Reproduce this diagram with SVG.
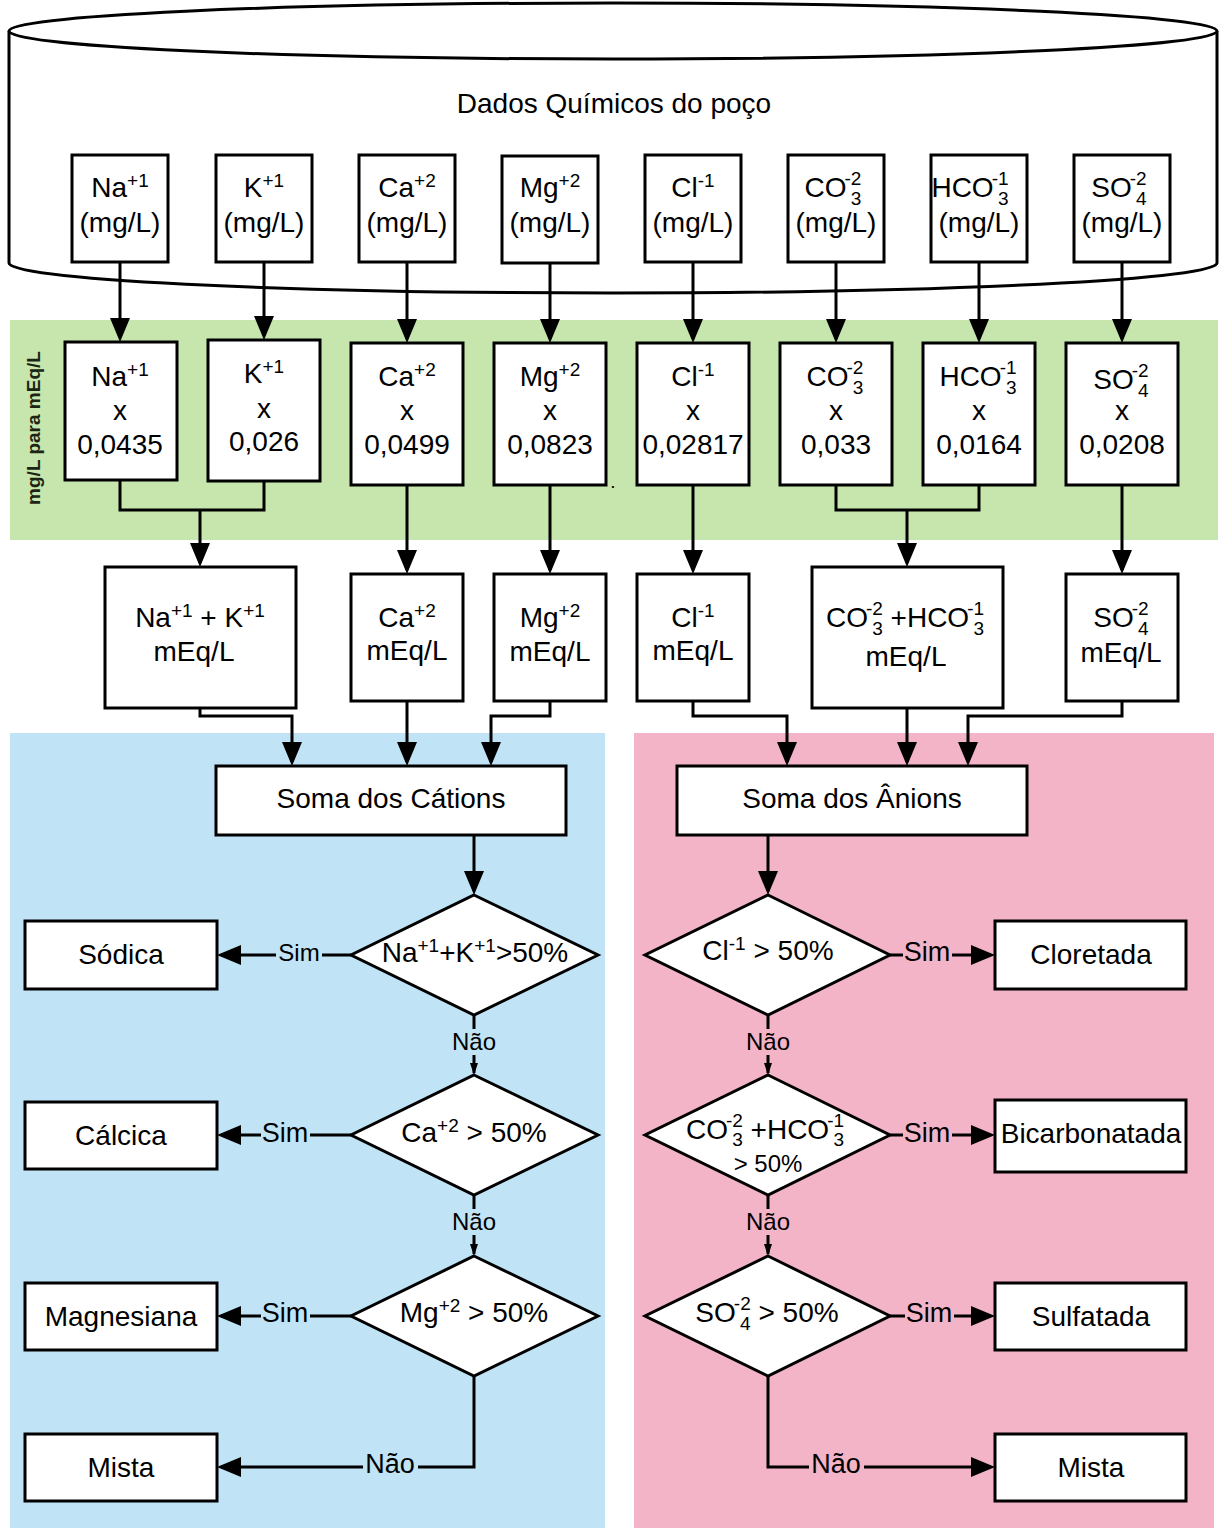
<svg xmlns="http://www.w3.org/2000/svg" width="1220" height="1528" viewBox="0 0 1220 1528">
  <style>
    text { font-family: "Liberation Sans", Arial, sans-serif; font-size: 28px; fill: #000; text-anchor: middle; }
    .s { font-size: 19px; }
    .lbl { font-size: 27px; }
    .lbls { font-size: 24px; }
    .box { fill: #fff; stroke: #000; stroke-width: 3; }
    .wire { fill: none; stroke: #000; stroke-width: 3; }
    .big { marker-end: url(#arr); }
    .small { marker-end: url(#arrs); }
    .side { font-size: 19px; font-weight: bold; fill: #1c2414; }
  </style>
  <defs>
    <marker id="arr" viewBox="0 0 24 20" refX="20" refY="10" markerWidth="24" markerHeight="20" markerUnits="userSpaceOnUse" orient="auto">
      <path d="M0,0 L24,10 L0,20 z" fill="#000"/>
    </marker>
    <marker id="arrs" viewBox="0 0 12 8" refX="10" refY="4" markerWidth="12" markerHeight="8" markerUnits="userSpaceOnUse" orient="auto">
      <path d="M0,0 L12,4 L0,8 z" fill="#000"/>
    </marker>
  </defs>

  <!-- background bands -->
  <rect x="10" y="320" width="1208" height="220" fill="#c6e6ad"/>
  <rect x="10" y="733" width="595" height="795" fill="#c1e3f6"/>
  <rect x="634" y="733" width="580" height="795" fill="#f3b4c8"/>
  <text class="side" transform="translate(40,428) rotate(-90)">mg/L para mEq/L</text>

  <!-- well database cylinder -->
  <g id="well">
    <path class="box" d="M9,31 L9,263 A604,30 0 0 0 1217,263 L1217,31"/>
    <ellipse class="box" cx="613" cy="31" rx="604" ry="28"/>
    <text x="614" y="113">Dados Químicos do poço</text>
  </g>

  <!-- raw concentrations -->
  <g id="in-na"><rect class="box" x="72" y="155" width="96" height="107"/>
    <text x="120" y="197"><tspan>Na</tspan><tspan class="s" dy="-10">+1</tspan></text>
    <text x="120" y="232">(mg/L)</text></g>
  <g id="in-k"><rect class="box" x="216" y="155" width="96" height="107"/>
    <text x="264" y="197"><tspan>K</tspan><tspan class="s" dy="-10">+1</tspan></text>
    <text x="264" y="232">(mg/L)</text></g>
  <g id="in-ca"><rect class="box" x="359" y="155" width="96" height="107"/>
    <text x="407" y="197"><tspan>Ca</tspan><tspan class="s" dy="-10">+2</tspan></text>
    <text x="407" y="232">(mg/L)</text></g>
  <g id="in-mg"><rect class="box" x="502" y="156" width="96" height="107"/>
    <text x="550" y="197"><tspan>Mg</tspan><tspan class="s" dy="-10">+2</tspan></text>
    <text x="550" y="232">(mg/L)</text></g>
  <g id="in-cl"><rect class="box" x="645" y="155" width="96" height="107"/>
    <text x="693" y="197"><tspan>Cl</tspan><tspan class="s" dy="-10">-1</tspan></text>
    <text x="693" y="232">(mg/L)</text></g>
  <g id="in-co3"><rect class="box" x="788" y="155" width="96" height="107"/>
    <text x="833" y="197"><tspan>CO</tspan><tspan class="s" dx="-2" dy="-12">-2</tspan><tspan class="s" dx="-10.6" dy="20">3</tspan></text>
    <text x="836" y="232">(mg/L)</text></g>
  <g id="in-hco3"><rect class="box" x="931" y="155" width="96" height="107"/>
    <text x="970" y="197"><tspan>HCO</tspan><tspan class="s" dx="-2" dy="-12">-1</tspan><tspan class="s" dx="-10.6" dy="20">3</tspan></text>
    <text x="979" y="232">(mg/L)</text></g>
  <g id="in-so4"><rect class="box" x="1074" y="155" width="96" height="107"/>
    <text x="1119" y="197"><tspan>SO</tspan><tspan class="s" dx="-2" dy="-12">-2</tspan><tspan class="s" dx="-10.6" dy="20">4</tspan></text>
    <text x="1122" y="232">(mg/L)</text></g>

  <!-- conversion factors mg/L to mEq/L -->
  <g id="f-na"><rect class="box" x="65" y="342" width="112" height="138"/>
    <text x="120" y="386"><tspan>Na</tspan><tspan class="s" dy="-10">+1</tspan></text>
    <text x="120" y="420">x</text><text x="120" y="454">0,0435</text></g>
  <g id="f-k"><rect class="box" x="208" y="340" width="112" height="141"/>
    <text x="264" y="383"><tspan>K</tspan><tspan class="s" dy="-10">+1</tspan></text>
    <text x="264" y="418">x</text><text x="264" y="451">0,026</text></g>
  <g id="f-ca"><rect class="box" x="351" y="343" width="112" height="142"/>
    <text x="407" y="386"><tspan>Ca</tspan><tspan class="s" dy="-10">+2</tspan></text>
    <text x="407" y="420">x</text><text x="407" y="454">0,0499</text></g>
  <g id="f-mg"><rect class="box" x="494" y="343" width="112" height="142"/>
    <text x="550" y="386"><tspan>Mg</tspan><tspan class="s" dy="-10">+2</tspan></text>
    <text x="550" y="420">x</text><text x="550" y="454">0,0823</text></g>
  <text x="613" y="488" class="s">.</text>
  <g id="f-cl"><rect class="box" x="637" y="343" width="112" height="142"/>
    <text x="693" y="386"><tspan>Cl</tspan><tspan class="s" dy="-10">-1</tspan></text>
    <text x="693" y="420">x</text><text x="693" y="454">0,02817</text></g>
  <g id="f-co3"><rect class="box" x="780" y="343" width="112" height="142"/>
    <text x="835" y="386"><tspan>CO</tspan><tspan class="s" dx="-2" dy="-12">-2</tspan><tspan class="s" dx="-10.6" dy="20">3</tspan></text>
    <text x="836" y="420">x</text><text x="836" y="454">0,033</text></g>
  <g id="f-hco3"><rect class="box" x="923" y="343" width="112" height="142"/>
    <text x="978" y="386"><tspan>HCO</tspan><tspan class="s" dx="-2" dy="-12">-1</tspan><tspan class="s" dx="-10.6" dy="20">3</tspan></text>
    <text x="979" y="420">x</text><text x="979" y="454">0,0164</text></g>
  <g id="f-so4"><rect class="box" x="1066" y="343" width="112" height="142"/>
    <text x="1121" y="389"><tspan>SO</tspan><tspan class="s" dx="-2" dy="-12">-2</tspan><tspan class="s" dx="-10.6" dy="20">4</tspan></text>
    <text x="1122" y="420">x</text><text x="1122" y="454">0,0208</text></g>

  <!-- values in mEq/L -->
  <g id="m-nak"><rect class="box" x="105" y="567" width="191" height="141"/>
    <text x="200" y="627"><tspan>Na</tspan><tspan class="s" dy="-10">+1</tspan><tspan dy="10"> + K</tspan><tspan class="s" dy="-10">+1</tspan></text>
    <text x="194" y="661">mEq/L</text></g>
  <g id="m-ca"><rect class="box" x="351" y="574" width="112" height="127"/>
    <text x="407" y="627"><tspan>Ca</tspan><tspan class="s" dy="-10">+2</tspan></text>
    <text x="407" y="660">mEq/L</text></g>
  <g id="m-mg"><rect class="box" x="494" y="574" width="112" height="127"/>
    <text x="550" y="627"><tspan>Mg</tspan><tspan class="s" dy="-10">+2</tspan></text>
    <text x="550" y="661">mEq/L</text></g>
  <g id="m-cl"><rect class="box" x="637" y="574" width="112" height="127"/>
    <text x="693" y="627"><tspan>Cl</tspan><tspan class="s" dy="-10">-1</tspan></text>
    <text x="693" y="660">mEq/L</text></g>
  <g id="m-carb"><rect class="box" x="812" y="567" width="191" height="141"/>
    <text x="905" y="627"><tspan>CO</tspan><tspan class="s" dx="-2" dy="-12">-2</tspan><tspan class="s" dx="-10.6" dy="20">3</tspan><tspan dy="-8"> +HCO</tspan><tspan class="s" dx="-2" dy="-12">-1</tspan><tspan class="s" dx="-10.6" dy="20">3</tspan></text>
    <text x="906" y="666">mEq/L</text></g>
  <g id="m-so4"><rect class="box" x="1066" y="574" width="112" height="127"/>
    <text x="1121" y="627"><tspan>SO</tspan><tspan class="s" dx="-2" dy="-12">-2</tspan><tspan class="s" dx="-10.6" dy="20">4</tspan></text>
    <text x="1121" y="662">mEq/L</text></g>

  <!-- sums -->
  <g id="sum-cat"><rect class="box" x="216" y="766" width="350" height="69"/>
    <text x="391" y="808">Soma dos Cátions</text></g>
  <g id="sum-an"><rect class="box" x="677" y="766" width="350" height="69"/>
    <text x="852" y="808">Soma dos Ânions</text></g>

  <!-- cation decisions -->
  <g id="d-nak"><polygon class="box" points="474,895 598,955 474,1015 351,955"/>
    <text x="475" y="962"><tspan>Na</tspan><tspan class="s" dy="-10">+1</tspan><tspan dy="10">+K</tspan><tspan class="s" dy="-10">+1</tspan><tspan dy="10">&gt;50%</tspan></text></g>
  <g id="d-ca"><polygon class="box" points="474,1075 598,1135 474,1195 351,1135"/>
    <text x="474" y="1142"><tspan>Ca</tspan><tspan class="s" dy="-10">+2</tspan><tspan dy="10"> &gt; 50%</tspan></text></g>
  <g id="d-mg"><polygon class="box" points="474,1256 598,1316 474,1376 351,1316"/>
    <text x="474" y="1322"><tspan>Mg</tspan><tspan class="s" dy="-10">+2</tspan><tspan dy="10"> &gt; 50%</tspan></text></g>

  <g id="r-sodica"><rect class="box" x="25" y="921" width="192" height="68"/><text x="121" y="964">Sódica</text></g>
  <g id="r-calcica"><rect class="box" x="25" y="1102" width="192" height="67"/><text x="121" y="1145">Cálcica</text></g>
  <g id="r-magnesiana"><rect class="box" x="25" y="1283" width="192" height="67"/><text x="121" y="1326">Magnesiana</text></g>
  <g id="r-mista-cat"><rect class="box" x="25" y="1434" width="192" height="67"/><text x="121" y="1477">Mista</text></g>

  <!-- anion decisions -->
  <g id="d-cl"><polygon class="box" points="768,895 890,955 768,1015 645,955"/>
    <text x="768" y="960"><tspan>Cl</tspan><tspan class="s" dy="-10">-1</tspan><tspan dy="10"> &gt; 50%</tspan></text></g>
  <g id="d-carb"><polygon class="box" points="768,1075 890,1135 768,1195 645,1135"/>
    <text x="765" y="1139"><tspan>CO</tspan><tspan class="s" dx="-2" dy="-12">-2</tspan><tspan class="s" dx="-10.6" dy="19">3</tspan><tspan dy="-7"> +HCO</tspan><tspan class="s" dx="-2" dy="-12">-1</tspan><tspan class="s" dx="-10.6" dy="19">3</tspan></text>
    <text x="768" y="1172" class="lbls">&gt; 50%</text></g>
  <g id="d-so4"><polygon class="box" points="768,1256 890,1316 768,1376 645,1316"/>
    <text x="767" y="1322"><tspan>SO</tspan><tspan class="s" dx="-2" dy="-12">-2</tspan><tspan class="s" dx="-10.6" dy="20">4</tspan><tspan dy="-8"> &gt; 50%</tspan></text></g>

  <g id="r-cloretada"><rect class="box" x="995" y="921" width="191" height="68"/><text x="1091" y="964">Cloretada</text></g>
  <g id="r-bicarbonatada"><rect class="box" x="995" y="1100" width="191" height="72"/><text x="1091" y="1143">Bicarbonatada</text></g>
  <g id="r-sulfatada"><rect class="box" x="995" y="1283" width="191" height="67"/><text x="1091" y="1326">Sulfatada</text></g>
  <g id="r-mista-an"><rect class="box" x="995" y="1434" width="191" height="67"/><text x="1091" y="1477">Mista</text></g>

  <!-- connectors -->
  <g id="connectors">
    <path class="wire big" d="M120,262 V338"/>
    <path class="wire big" d="M264,262 V336"/>
    <path class="wire big" d="M407,262 V339"/>
    <path class="wire big" d="M550,263 V339"/>
    <path class="wire big" d="M693,262 V339"/>
    <path class="wire big" d="M836,262 V339"/>
    <path class="wire big" d="M979,262 V339"/>
    <path class="wire big" d="M1122,262 V339"/>

    <path class="wire" d="M120,480 V510 H264 V481"/>
    <path class="wire big" d="M200,510 V563"/>
    <path class="wire big" d="M407,485 V570"/>
    <path class="wire big" d="M550,485 V570"/>
    <path class="wire big" d="M693,485 V570"/>
    <path class="wire" d="M836,485 V510 H979 V485"/>
    <path class="wire big" d="M907,510 V563"/>
    <path class="wire big" d="M1122,485 V570"/>

    <path class="wire big" d="M200,708 V716 H292 V762"/>
    <path class="wire big" d="M407,701 V762"/>
    <path class="wire big" d="M550,701 V716 H491 V762"/>
    <path class="wire big" d="M693,701 V716 H787 V762"/>
    <path class="wire big" d="M907,708 V762"/>
    <path class="wire big" d="M1122,701 V716 H968 V762"/>

    <path class="wire big" d="M474,835 V891"/>
    <path class="wire big" d="M768,835 V891"/>

    <!-- cation branches -->
    <path class="wire big" d="M351,955 H221"/>
    <rect x="276" y="940" width="46" height="26" fill="#c1e3f6"/>
    <text class="lbls" x="299" y="961">Sim</text>
    <path class="wire small" d="M474,1015 V1073"/>
    <rect x="450" y="1029" width="48" height="26" fill="#c1e3f6"/>
    <text class="lbls" x="474" y="1050">Não</text>
    <path class="wire big" d="M351,1135 H221"/>
    <rect x="261" y="1120" width="49" height="28" fill="#c1e3f6"/>
    <text class="lbl" x="285" y="1142">Sim</text>
    <path class="wire small" d="M474,1195 V1254"/>
    <rect x="450" y="1209" width="48" height="26" fill="#c1e3f6"/>
    <text class="lbls" x="474" y="1230">Não</text>
    <path class="wire big" d="M351,1316 H221"/>
    <rect x="261" y="1300" width="49" height="28" fill="#c1e3f6"/>
    <text class="lbl" x="285" y="1322">Sim</text>
    <path class="wire big" d="M474,1376 V1467 H221"/>
    <rect x="363" y="1451" width="55" height="28" fill="#c1e3f6"/>
    <text class="lbl" x="390" y="1473">Não</text>

    <!-- anion branches -->
    <path class="wire big" d="M890,955 H991"/>
    <rect x="903" y="939" width="49" height="28" fill="#f3b4c8"/>
    <text class="lbl" x="927" y="961">Sim</text>
    <path class="wire small" d="M768,1015 V1073"/>
    <rect x="744" y="1029" width="48" height="26" fill="#f3b4c8"/>
    <text class="lbls" x="768" y="1050">Não</text>
    <path class="wire big" d="M890,1135 H991"/>
    <rect x="903" y="1120" width="49" height="28" fill="#f3b4c8"/>
    <text class="lbl" x="927" y="1142">Sim</text>
    <path class="wire small" d="M768,1195 V1254"/>
    <rect x="744" y="1209" width="48" height="26" fill="#f3b4c8"/>
    <text class="lbls" x="768" y="1230">Não</text>
    <path class="wire big" d="M890,1316 H991"/>
    <rect x="905" y="1300" width="49" height="28" fill="#f3b4c8"/>
    <text class="lbl" x="929" y="1322">Sim</text>
    <path class="wire big" d="M768,1376 V1467 H991"/>
    <rect x="809" y="1451" width="55" height="28" fill="#f3b4c8"/>
    <text class="lbl" x="836" y="1473">Não</text>
  </g>
</svg>
